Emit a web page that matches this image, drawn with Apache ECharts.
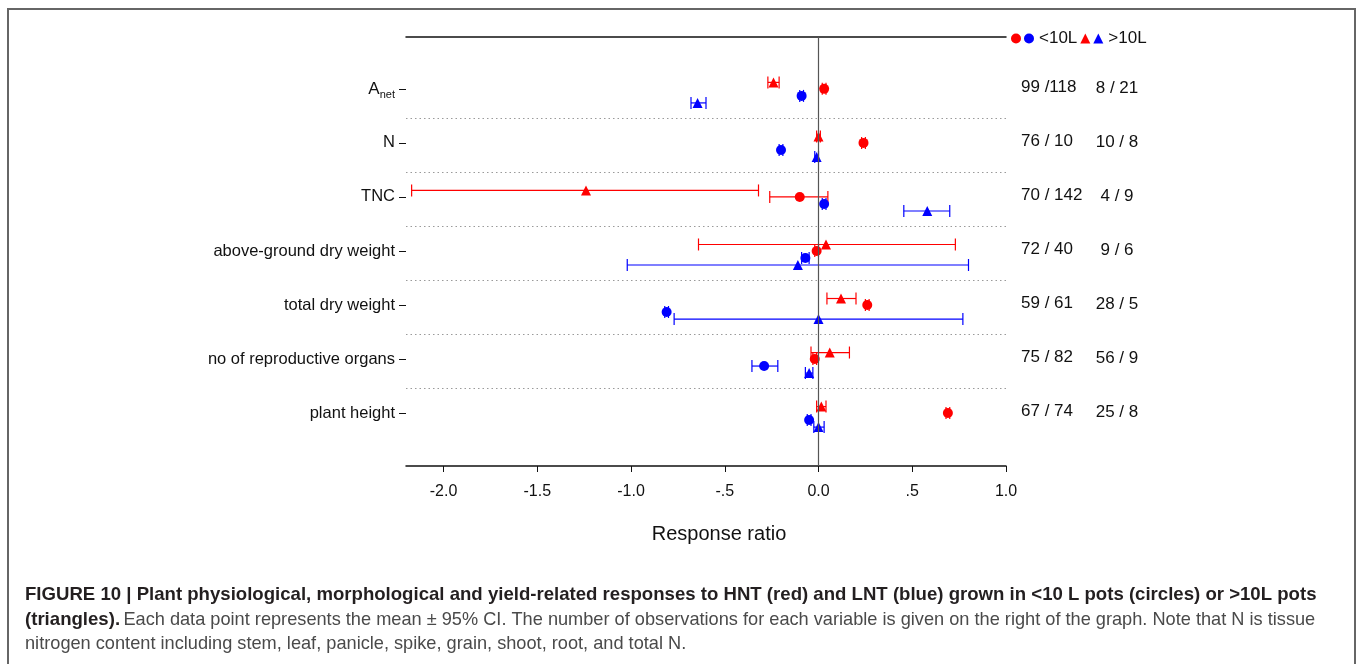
<!DOCTYPE html>
<html>
<head>
<meta charset="utf-8">
<script src="https://cdn.jsdelivr.net/npm/echarts@6/dist/echarts.min.js"></script>
<style>
html,body{margin:0;padding:0;background:#fff;}
#chart{width:1357px;height:664px;}
</style>
</head>
<body>
<div id="chart"></div>
<script>
// ---------- data ----------
const categories = ['Anet', 'N', 'TNC', 'above-ground dry weight', 'total dry weight', 'no of reproductive organs', 'plant height'];

// HNT (red), <10 L pots (circles)
const hntSmallMean = [0.03, 0.24, -0.10, -0.01, 0.26, -0.02, 0.69];
const hntSmallLow  = [0.02, 0.23, -0.26, -0.02, 0.25, -0.03, 0.68];
const hntSmallHigh = [0.04, 0.25, 0.05, 0.00, 0.27, -0.01, 0.70];
// LNT (blue), <10 L pots (circles)
const lntSmallMean = [-0.09, -0.20, 0.03, -0.07, -0.81, -0.29, -0.05];
const lntSmallLow  = [-0.10, -0.21, 0.02, -0.09, -0.82, -0.355, -0.06];
const lntSmallHigh = [-0.08, -0.19, 0.04, -0.05, -0.80, -0.217, -0.04];
// HNT (red), >10 L pots (triangles)
const hntLargeMean = [-0.24, 0.00, -1.24, 0.04, 0.12, 0.06, 0.015];
const hntLargeLow  = [-0.27, -0.01, -2.17, -0.64, 0.045, -0.04, -0.01];
const hntLargeHigh = [-0.21, 0.01, -0.32, 0.73, 0.20, 0.165, 0.04];
// LNT (blue), >10 L pots (triangles)
const lntLargeMean = [-0.645, -0.01, 0.58, -0.11, 0.00, -0.05, 0.00];
const lntLargeLow  = [-0.68, -0.02, 0.455, -1.02, -0.77, -0.07, -0.025];
const lntLargeHigh = [-0.60, 0.00, 0.70, 0.80, 0.77, -0.03, 0.03];

// number of observations (HNT / LNT)
const countsSmall = ['99 /118', '76 / 10', '70 / 142', '72 / 40', '59 / 61', '75 / 82', '67 / 74'];
const countsLarge = ['8 / 21', '10 / 8', '4 / 9', '9 / 6', '28 / 5', '56 / 9', '25 / 8'];

const xTickValues = [-2, -1.5, -1, -0.5, 0, 0.5, 1];
const xTickLabels = ['-2.0', '-1.5', '-1.0', '-.5', '0.0', '.5', '1.0'];

// ---------- build ----------
const FONT = 'Liberation Sans, Arial, sans-serif';
const groups = [
  {name: 'HNT <10L', color: '#ff0000', symbol: 'circle',   mean: hntSmallMean, low: hntSmallLow, high: hntSmallHigh, off: 0},
  {name: 'LNT <10L', color: '#0000ff', symbol: 'circle',   mean: lntSmallMean, low: lntSmallLow, high: lntSmallHigh, off: 0.13},
  {name: 'HNT >10L', color: '#ff0000', symbol: 'triangle', mean: hntLargeMean, low: hntLargeLow, high: hntLargeHigh, off: -0.12},
  {name: 'LNT >10L', color: '#0000ff', symbol: 'triangle', mean: lntLargeMean, low: lntLargeLow, high: lntLargeHigh, off: 0.26}
];

const series = [];
groups.forEach(g => {
  series.push({
    name: g.name,
    type: 'scatter',
    z: 3,
    symbol: g.symbol,
    symbolSize: 10,
    itemStyle: {color: g.color, opacity: 1},
    data: g.mean.map((m, i) => [m, i + g.off])
  });
});
groups.forEach(g => {
  series.push({
    name: g.name,
    type: 'custom',
    z: 2,
    silent: true,
    itemStyle: {color: g.color},
    encode: {x: [0, 1], y: 2},
    data: g.low.map((l, i) => [l, g.high[i], i + g.off]),
    renderItem: function (params, api) {
      const y = api.value(2);
      const p1 = api.coord([api.value(0), y]);
      const p2 = api.coord([api.value(1), y]);
      const h = 6;
      const st = {stroke: g.color, lineWidth: 1.2};
      return {
        type: 'group',
        children: [
          {type: 'line', shape: {x1: p1[0], y1: p1[1], x2: p2[0], y2: p2[1]}, style: st},
          {type: 'line', shape: {x1: p1[0], y1: p1[1] - h, x2: p1[0], y2: p1[1] + h}, style: st},
          {type: 'line', shape: {x1: p2[0], y1: p2[1] - h, x2: p2[0], y2: p2[1] + h}, style: st}
        ]
      };
    }
  });
});
// separators and zero line
series.push({
  type: 'scatter',
  data: [],
  silent: true,
  markLine: {
    silent: true,
    symbol: ['none', 'none'],
    label: {show: false},
    animation: false,
    data: categories.slice(0, -1).map((c, i) => ({yAxis: i + 0.54, lineStyle: {color: '#9a9a9a', type: [1.5, 3], width: 1}}))
      .concat([{xAxis: 0, lineStyle: {color: '#555', type: 'solid', width: 1.2}}])
  }
});

const option = {
  animation: false,
  backgroundColor: '#fff',
  grid: {left: 406, right: 351, top: 37, bottom: 198, containLabel: false},
  legend: {
    left: 1006, top: 25,
    itemWidth: 10, itemHeight: 10, itemGap: 3,
    data: [
      {name: 'HNT <10L', icon: 'circle', itemStyle: {color: '#ff0000'}},
      {name: 'LNT <10L', icon: 'circle', itemStyle: {color: '#0000ff'}},
      {name: 'HNT >10L', icon: 'triangle', itemStyle: {color: '#ff0000'}},
      {name: 'LNT >10L', icon: 'triangle', itemStyle: {color: '#0000ff'}}
    ],
    formatter: n => (n === 'LNT <10L' ? '<10L' : n === 'LNT >10L' ? '>10L' : ''),
    textStyle: {fontFamily: FONT, fontSize: 17, color: '#111'}
  },
  xAxis: [{
    type: 'value', min: -2.2, max: 1.0,
    axisLine: {show: true, onZero: false, lineStyle: {color: '#111', width: 1.5}},
    axisTick: {show: true, length: 6, customValues: xTickValues, lineStyle: {color: '#111', width: 1}},
    axisLabel: {
      customValues: xTickValues, margin: 18,
      fontFamily: FONT, fontSize: 16, color: '#111',
      formatter: v => xTickLabels[xTickValues.indexOf(v)] ?? ''
    },
    splitLine: {show: false},
    name: 'Response ratio', nameLocation: 'middle', nameGap: 58,
    nameTextStyle: {fontFamily: FONT, fontSize: 20, color: '#111', padding: [0, 0, 0, 26]}
  }, {
    type: 'value', min: -2.2, max: 1.0, position: 'top',
    axisLine: {show: true, onZero: false, lineStyle: {color: '#111', width: 1.5}},
    axisTick: {show: false}, axisLabel: {show: false}, splitLine: {show: false}
  }],
  yAxis: {
    type: 'value', min: -0.96, max: 6.98, inverse: true,
    axisLine: {show: false, onZero: false},
    axisTick: {show: true, length: 7, customValues: categories.map((c, i) => i), lineStyle: {color: '#111'}},
    axisLabel: {
      customValues: categories.map((c, i) => i), margin: 11,
      fontFamily: FONT, fontSize: 16.5, color: '#111',
      formatter: v => {
        const c = categories[v];
        if (c === 'Anet') return '{a|A}{s|net}';
        return c ?? '';
      },
      rich: {
        a: {fontFamily: FONT, fontSize: 17, color: '#111'},
        s: {fontFamily: FONT, fontSize: 11, color: '#111', padding: [12, 0, 0, 0]}
      }
    },
    splitLine: {show: false}
  },
  series: series
};

const chart = echarts.init(document.getElementById('chart'), null, {renderer: 'canvas'});
chart.setOption(option);

// right-hand observation counts and caption
const graphics = [];
categories.forEach((c, i) => {
  const y = chart.convertToPixel({yAxisIndex: 0}, i);
  graphics.push({type: 'text', left: 1021, top: y - 10, silent: true,
    style: {text: countsSmall[i], font: '17px ' + FONT, fill: '#111'}});
  graphics.push({type: 'text', x: 1117, y: y - 1, silent: true,
    style: {text: countsLarge[i], font: '17px ' + FONT, fill: '#111', textAlign: 'center', textVerticalAlign: 'middle'}});
});
graphics.push({type: 'rect', silent: true, shape: {x: 8, y: 9, width: 1347, height: 700},
  style: {fill: null, stroke: '#666', lineWidth: 2}});
const capLines = [
  {t: '{b|FIGURE 10 | Plant physiological, morphological and yield-related responses to HNT (red) and LNT (blue) grown in <10 L pots (circles) or >10L pots}', y: 595},
  {t: '{b|(triangles).} {n|Each data point represents the mean ± 95% CI. The number of observations for each variable is given on the right of the graph. Note that N is tissue}', y: 620},
  {t: '{n|nitrogen content including stem, leaf, panicle, spike, grain, shoot, root, and total N.}', y: 644}
];
capLines.forEach(l => graphics.push({
  type: 'text', x: 25, y: l.y, silent: true,
  style: {
    text: l.t, textVerticalAlign: 'middle',
    rich: {
      b: {fontFamily: FONT, fontSize: 18.6, fontWeight: 'bold', fill: '#231f20'},
      n: {fontFamily: FONT, fontSize: 18.2, fill: '#4a4a4a'}
    }
  }
}));
chart.setOption({graphic: graphics});
</script>
</body>
</html>
